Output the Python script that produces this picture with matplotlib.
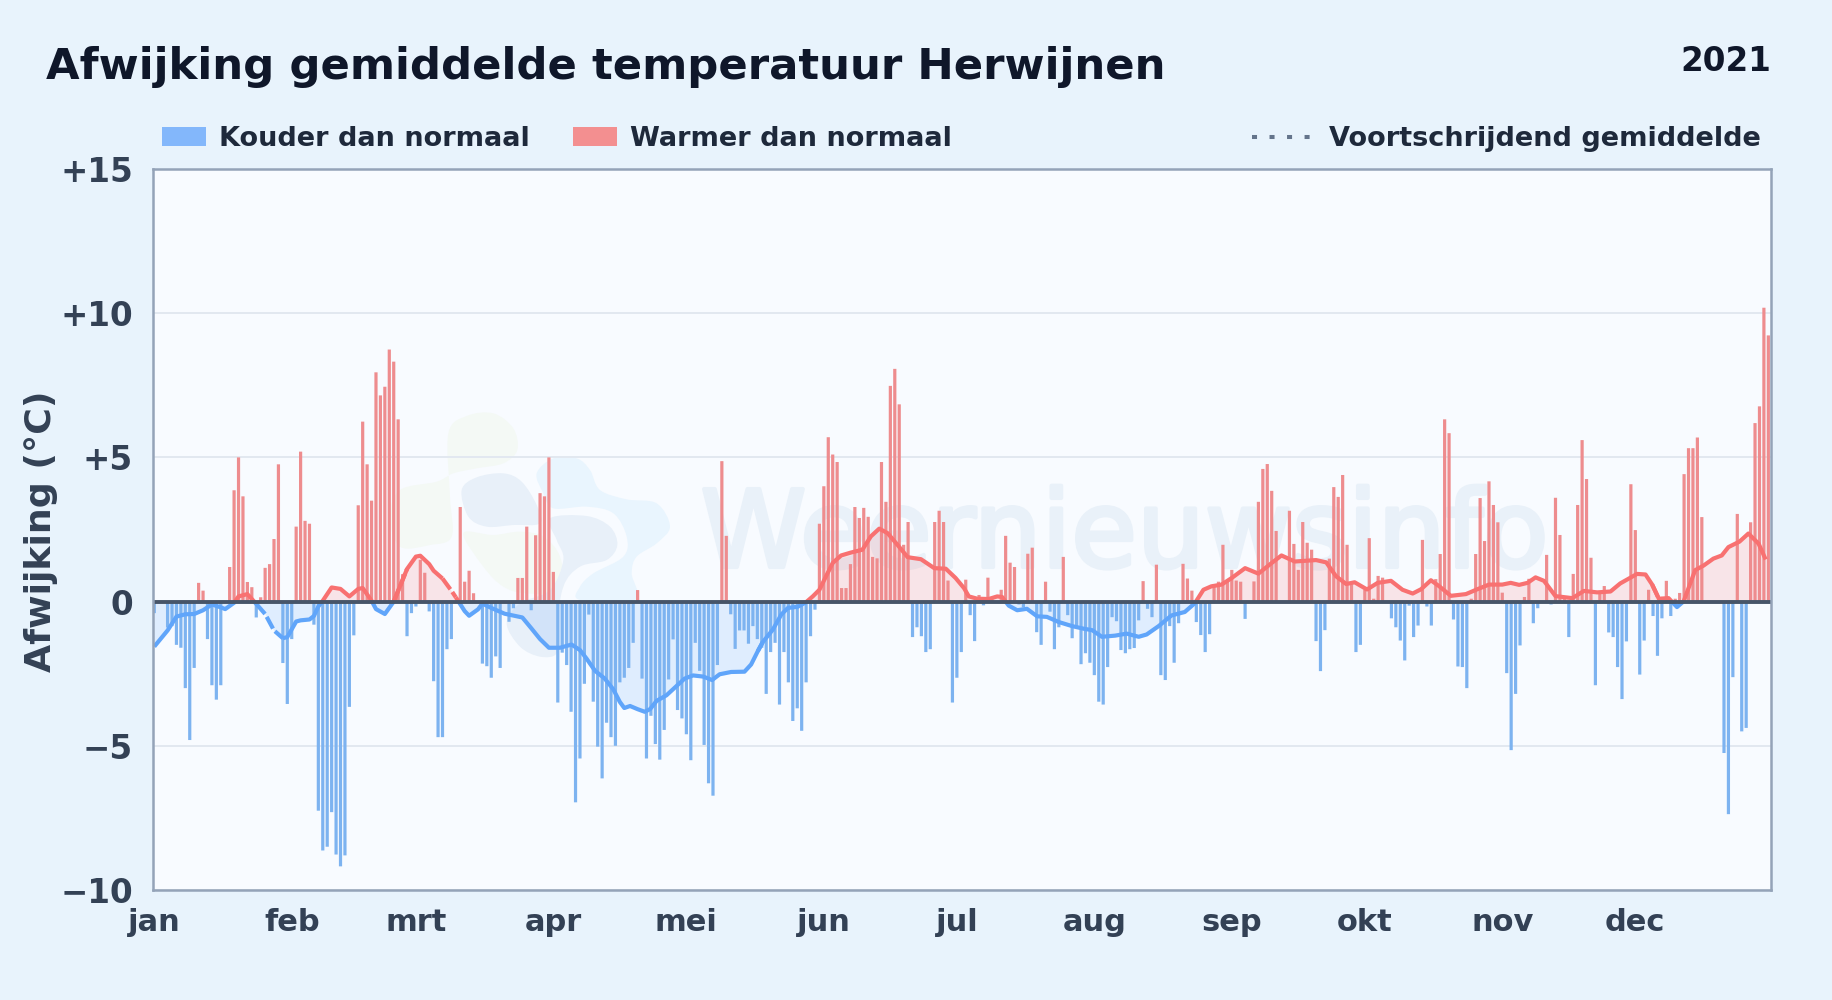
import numpy as np
import matplotlib
matplotlib.use("Agg")
import matplotlib.pyplot as plt
import matplotlib.patheffects as pe
from matplotlib.lines import Line2D
from matplotlib.patches import Rectangle, PathPatch
from matplotlib.path import Path
from matplotlib.transforms import Affine2D

month_labels = ["jan", "feb", "mrt", "apr", "mei", "jun", "jul", "aug", "sep", "okt", "nov", "dec"]
month_starts = [0, 31, 59, 90, 120, 151, 181, 212, 243, 273, 304, 334]
y_ticks = [-10, -5, 0, 5, 10, 15]
y_labels = ["\u221210", "\u22125", "0", "+5", "+10", "+15"]

afwijking = [
    -0.4, 0, 0, -0.9, -0.85, -1.5, -1.6, -3.0, -4.8, -2.3,
    0.65, 0.38, -1.3, -2.9, -3.4, -2.9, 0, 1.2, 3.86, 5.0,
    3.65, 0.68, 0.5, -0.55, 0.15, 1.17, 1.3, 2.17, 4.76, -2.13,
    -3.55, -1.3, 2.6, 5.2, 2.8, 2.7, -0.8, -7.25, -8.63, -8.5,
    -7.3, -8.77, -9.18, -8.8, -3.65, -1.17, 3.34, 6.24, 4.76, 3.5,
    7.95, 7.15, 7.45, 8.74, 8.32, 6.32, 0.95, -1.2, -0.4, -0.17,
    1.45, 1.0, -0.34, -2.76, -4.7, -4.7, -1.65, -1.3, 0, 3.28,
    0.69, 1.07, 0.29, 0, -2.15, -2.24, -2.64, -1.9, -2.3, 0,
    -0.7, -0.23, 0.82, 0.82, 2.6, -0.3, 2.3, 3.76, 3.65, 5.0,
    1.03, -3.5, -1.77, -2.2, -3.82, -6.96, -5.44, -2.85, -0.45, -3.47,
    -5.03, -6.13, -4.2, -4.7, -5.0, -2.8, -2.64, -2.3, -1.43, 0.4,
    -2.67, -5.44, -3.96, -4.94, -5.48, -4.45, -2.7, -1.31, -3.76, -4.05,
    -4.6, -5.5, -1.43, -2.4, -4.97, -6.3, -6.73, -2.2, 4.87, 2.28,
    -0.44, -1.64, -1.0, -1.0, -1.46, -0.85, -1.3, -1.6, -3.2, -1.75,
    -1.43, -3.57, -1.75, -2.8, -4.14, -3.7, -4.48, -2.8, -1.2, -0.28,
    2.7, 4.0, 5.7, 5.1, 4.84, 0.47, 0.47, 1.3, 3.28, 2.9,
    3.25, 2.94, 1.55, 1.5, 4.84, 3.46, 7.48, 8.07, 6.84, 1.97,
    2.76, -1.23, -0.89, -1.2, -1.75, -1.65, 2.76, 3.15, 2.76, 0.73,
    -3.5, -2.64, -1.75, 0.76, -0.47, -1.37, 0.23, -0.13, 0.83, 0.07,
    0, 0.41, 2.28, 1.35, 1.2, -0.1, -0.2, 1.66, 1.87, -1.06,
    -1.5, 0.69, -0.35, -1.65, -0.89, 1.55, -0.47, -1.27, -0.85, -2.17,
    -1.79, -2.12, -2.55, -3.47, -3.57, -2.27, -0.54, -0.68, -1.68, -1.79,
    -1.65, -1.61, -0.65, 0.71, -0.25, -0.54, 1.28, -2.55, -2.72, -0.85,
    -2.12, -0.75, 1.31, 0.8, 0.38, -0.71, -1.16, -1.75, -1.13, 0.61,
    0.69, 1.97, 0.7, 1.1, 0.73, 0.69, -0.6, 0, 0.7, 3.46,
    4.6, 4.77, 3.84, 2.45, 0, 0, 3.15, 2.0, 1.1, 2.76,
    2.04, 1.8, -1.37, -2.41, -0.99, 1.49, 3.97, 3.63, 4.39, 1.97,
    0.6, -1.75, -1.5, 0.41, 2.2, 0.1, 0.89, 0.83, 0, -0.58,
    -0.89, -1.35, -2.04, -0.14, -1.23, -0.83, 2.14, -0.17, -0.83, 0.78,
    1.65, 6.32, 5.84, -0.62, -2.25, -2.27, -3.0, 0.1, 1.65, 3.59,
    2.1, 4.17, 3.35, 2.75, 0.31, -2.48, -5.15, -3.2, -1.52, 0.16,
    0.79, -0.75, -0.23, 0, 1.62, -0.1, 3.6, 2.31, 0.1, -1.23,
    0.96, 3.35, 5.6, 4.25, 1.52, -2.9, 0.28, 0.54, -1.07, -1.23,
    -2.27, -3.38, -1.38, 4.07, 2.48, -2.53, -1.35, 0.41, -0.5, -1.88,
    -0.58, 0.72, -0.5, 0.1, 0.3, 4.42, 5.32, 5.32, 5.69, 2.93,
    0, 0, 0, 0, -5.25, -7.37, -2.62, 3.04, -4.5, -4.38,
    2.75, 6.19, 6.77, 10.19, 9.23,
]

gem_dag = [
    0, 3, 5, 7, 9, 11, 13, 15, 16, 18, 19, 21, 23, 25, 27, 29, 30, 32, 33, 35,
    36, 37, 38, 40, 42, 44, 46, 47, 49, 50, 52, 54, 57, 59, 60, 62, 63, 65, 67, 68,
    70, 71, 73, 74, 76, 79, 82, 83, 85, 87, 89, 91.5, 94.1, 96, 97.5, 99.4, 101.6, 103.5, 105, 106,
    107.3, 109, 110.6, 111.8, 113.3, 115.5, 117.4, 119.6, 121.5, 123.8, 125.8, 127.5, 130.1, 133.1, 134.6, 136.1, 137.2, 139.5, 141.4, 142.9,
    145.1, 147, 148.5, 150, 151.5, 153, 154.9, 157.1, 159.7, 161.6, 163.5, 165.4, 167.6, 169.9, 172.9, 175.9, 178.5, 180.7, 182.6,
    183.7, 185.6, 188.2, 190.1, 191.2, 192.7, 194.6, 196.8, 199.1, 201.3, 204, 207, 209.6, 211.5, 213.7, 216.7, 219.3, 222, 223.8, 226.5, 229.4,
    232.4, 234.7, 236.6, 238.4, 240.7, 243, 246, 249, 252, 254.2, 257.2, 262, 264.3, 266.5, 268.8, 270.7, 273.5,
    275.9, 278.9, 281.5, 283.8, 285.7, 287.9, 289.8, 292.4, 295.8, 298.4, 301, 304, 305.9, 307.8, 309.7, 311.5, 313.4, 316, 319.8, 322.4,
    325.4, 328.4, 330.6, 334.4, 336.3, 337.8, 339.3, 341.5, 343.4, 344.9, 347.5, 349.4, 351.6, 353.5, 355, 357.5, 359.5, 361.8, 363.4,
]
gem_waarde = [
    -1.56, -1.0, -0.52, -0.44, -0.43, -0.3, -0.1, -0.2, -0.26, -0.04, 0.18, 0.26, -0.08, -0.43, -1.0, -1.27, -1.23, -0.69, -0.65, -0.62,
    -0.5, -0.17, 0.03, 0.49, 0.44, 0.18, 0.44, 0.47, 0.03, -0.26, -0.43, 0.0, 1.13, 1.56, 1.59, 1.3, 1.07, 0.8, 0.38, 0.15,
    -0.33, -0.49, -0.27, -0.07, -0.22, -0.42, -0.52, -0.55, -0.92, -1.3, -1.6, -1.6, -1.49, -1.68, -1.98, -2.4, -2.67, -3.04, -3.48, -3.69,
    -3.62, -3.73, -3.82, -3.73, -3.44, -3.25, -2.98, -2.67, -2.56, -2.6, -2.72, -2.52, -2.44, -2.43, -2.18, -1.72, -1.41, -0.97, -0.45, -0.22,
    -0.18, -0.02, 0.18, 0.41, 0.88, 1.34, 1.6, 1.7, 1.8, 2.26, 2.53, 2.37, 1.97, 1.54, 1.47, 1.16, 1.14, 0.82, 0.47,
    0.18, 0.1, 0.09, 0.18, 0.16, -0.14, -0.3, -0.25, -0.51, -0.53, -0.71, -0.85, -0.94, -0.99, -1.22, -1.18, -1.11, -1.22, -1.14, -0.85, -0.48,
    -0.36, -0.05, 0.41, 0.53, 0.59, 0.82, 1.16, 0.97, 1.34, 1.6, 1.39, 1.44, 1.36, 0.88, 0.61, 0.67, 0.42,
    0.65, 0.72, 0.41, 0.28, 0.43, 0.74, 0.53, 0.2, 0.26, 0.43, 0.59, 0.59, 0.65, 0.58, 0.65, 0.84, 0.72, 0.19, 0.12, 0.37,
    0.32, 0.35, 0.63, 0.96, 0.94, 0.59, 0.1, 0.12, -0.19, 0.01, 1.09, 1.25, 1.49, 1.6, 1.89, 2.08, 2.36, 2.01, 1.46,
]
gestreept_van = [23, 54, 64, 135, 337, 345]
gestreept_tot = [29, 58, 69, 138, 341, 348]

W, H = 1832, 1000
BG = "#e8f3fc"
AX_BG = "#f8fbff"
BLUE = "#60a5fa"
RED = "#f87171"
BAR_BLUE = "#7db3f0"
BAR_RED = "#ee8c8e"
FB = "DejaVu Sans"
plt.rcParams["font.family"] = FB
plt.rcParams["font.weight"] = "bold"

fig = plt.figure(figsize=(W / 100, H / 100), dpi=100, facecolor=BG)
ax = fig.add_axes([152.5 / W, 1 - 890 / H, (1771 - 152.5) / W, (890 - 169) / H], facecolor=AX_BG)

dagen = np.arange(len(afwijking))
waarden = np.array(afwijking, dtype=float)
gx = np.array(gem_dag, dtype=float)
gy = np.array(gem_waarde, dtype=float)

px = Affine2D().scale(1 / W, -1 / H).translate(0, 1) + fig.transFigure


def blob(points, color):
    p = np.array(points, dtype=float) / 3 + np.array([380, 390])
    n = len(p)
    verts, codes = [p[0]], [Path.MOVETO]
    for i in range(n):
        p0, p1, p2, p3 = p[i - 1], p[i], p[(i + 1) % n], p[(i + 2) % n]
        verts += [p1 + (p2 - p0) / 6, p2 - (p3 - p1) / 6, p2]
        codes += [Path.CURVE4] * 3
    ax.add_patch(PathPatch(Path(verts, codes), transform=px, fc=color, ec="none", zorder=0.5))


GREEN_W, GRAY_W, LIGHT_W = "#f4f9f5", "#e8f0f9", "#e9f5fe"
blob([(205, 130), (260, 78), (340, 70), (400, 115), (412, 180), (370, 220), (290, 235), (220, 250), (170, 275),
      (60, 300), (30, 380), (60, 470), (150, 465), (215, 440), (210, 320)], GREEN_W)
blob([(250, 430), (340, 435), (420, 425), (490, 440), (540, 500), (545, 600), (440, 610), (370, 590), (310, 530)], GREEN_W)
blob([(245, 300), (290, 262), (370, 250), (425, 275), (470, 345), (480, 400), (400, 405), (320, 410), (265, 380)], GRAY_W)
blob([(510, 385), (620, 378), (690, 410), (712, 465), (680, 510), (600, 530), (550, 590), (530, 720), (530, 790),
      (480, 800), (420, 770), (380, 700), (420, 640), (510, 600), (550, 510), (530, 450)], GRAY_W)
blob([(470, 250), (520, 205), (590, 205), (630, 240), (660, 300), (740, 328), (830, 340), (870, 410), (830, 460),
      (770, 500), (755, 550), (765, 630), (600, 630), (600, 590), (640, 550), (730, 500), (740, 440), (700, 370),
      (620, 350), (520, 355), (490, 310)], LIGHT_W)
ax.text(1125, 567, "Weernieuwsinfo", transform=px, ha="center", va="baseline", fontsize=77, fontweight="normal",
        color="#e9f1f9", zorder=0.6, clip_on=True,
        path_effects=[pe.withStroke(linewidth=3, foreground="#e9f1f9")])

ax.set_xlim(-0.4, 364.6)
ax.set_ylim(-10, 15)
ax.set_xticks(month_starts)
ax.set_xticklabels(month_labels)
ax.set_yticks(y_ticks)
ax.set_yticklabels(y_labels)
ax.tick_params(axis="x", length=0, labelsize=22, labelcolor="#334155", pad=13.3)
ax.tick_params(axis="y", length=0, labelsize=23.5, labelcolor="#334155", pad=14)
ax.set_axisbelow("line")
ax.grid(axis="y", color="#e2e8f0", lw=1.4)
for s in ax.spines.values():
    s.set_color("#94a3b8")
    s.set_linewidth(1.8)
    s.set_zorder(6)
fig.text(41 / W, 1 - 531 / H, "Afwijking (\u00b0C)", rotation=90, ha="center", va="center", fontsize=26.2, color="#334155")

ax.fill_between(gx, gy, 0, where=gy >= 0, interpolate=True, color=RED, alpha=0.16, lw=0, zorder=1)
ax.fill_between(gx, gy, 0, where=gy <= 0, interpolate=True, color=BLUE, alpha=0.16, lw=0, zorder=1)

kleuren = [BAR_RED if v > 0 else BAR_BLUE for v in waarden]
staven = ax.bar(dagen, waarden, width=0.72, color=kleuren, lw=0, zorder=2)
for staaf in staven:
    staaf.set_snap(False)

gestreept = np.zeros(len(gx), dtype=bool)
for a, b in zip(gestreept_van, gestreept_tot):
    gestreept |= (gx >= a) & (gx <= b)
solid_y = np.where(gestreept & np.r_[gestreept[1:], True] & np.r_[True, gestreept[:-1]], np.nan, gy)
dash_y = np.where(gestreept, gy, np.nan)
for kleur, y0, y1 in [(RED, 0, 15), (BLUE, -10, 0)]:
    for yy, stijl in [(solid_y, {}), (dash_y, {"dashes": (3.2, 0.8)})]:
        lijn, = ax.plot(gx, yy, color=kleur, lw=3.0, zorder=3, solid_joinstyle="round", solid_capstyle="butt", **stijl)
        lijn.set_clip_path(Rectangle((-1, y0), 367, y1 - y0, transform=ax.transData))

ax.axhline(0, color="#475569", lw=2.8, zorder=4)

fig.text(46 / W, 1 - 79 / H, "Afwijking gemiddelde temperatuur Herwijnen", ha="left", va="baseline", fontsize=31.2, color="#0f172a")
fig.text(1771 / W, 1 - 71 / H, "2021", ha="right", va="baseline", fontsize=23.5, color="#0f172a")

for x0, kleur in [(162, "#83b7fb"), (573, "#f38f90")]:
    fig.patches.append(Rectangle((x0 / W, 1 - 146 / H), 44 / W, 19 / H, transform=fig.transFigure, fc=kleur, ec="none"))
fig.add_artist(Line2D([1252 / W, 1312 / W], [1 - 137 / H] * 2, color="#64748b", lw=2.9, dashes=(1.25, 3.1), dash_capstyle="butt", transform=fig.transFigure))
LEG = dict(va="center_baseline", fontsize=19.5, color="#1e293b")
fig.text(219 / W, 1 - 136 / H, "Kouder dan normaal", ha="left", **LEG)
fig.text(630 / W, 1 - 136 / H, "Warmer dan normaal", ha="left", **LEG)
fig.text(1760.5 / W, 1 - 136 / H, "Voortschrijdend gemiddelde", ha="right", **LEG)

fig.savefig("out.png", dpi=100, facecolor=BG)
